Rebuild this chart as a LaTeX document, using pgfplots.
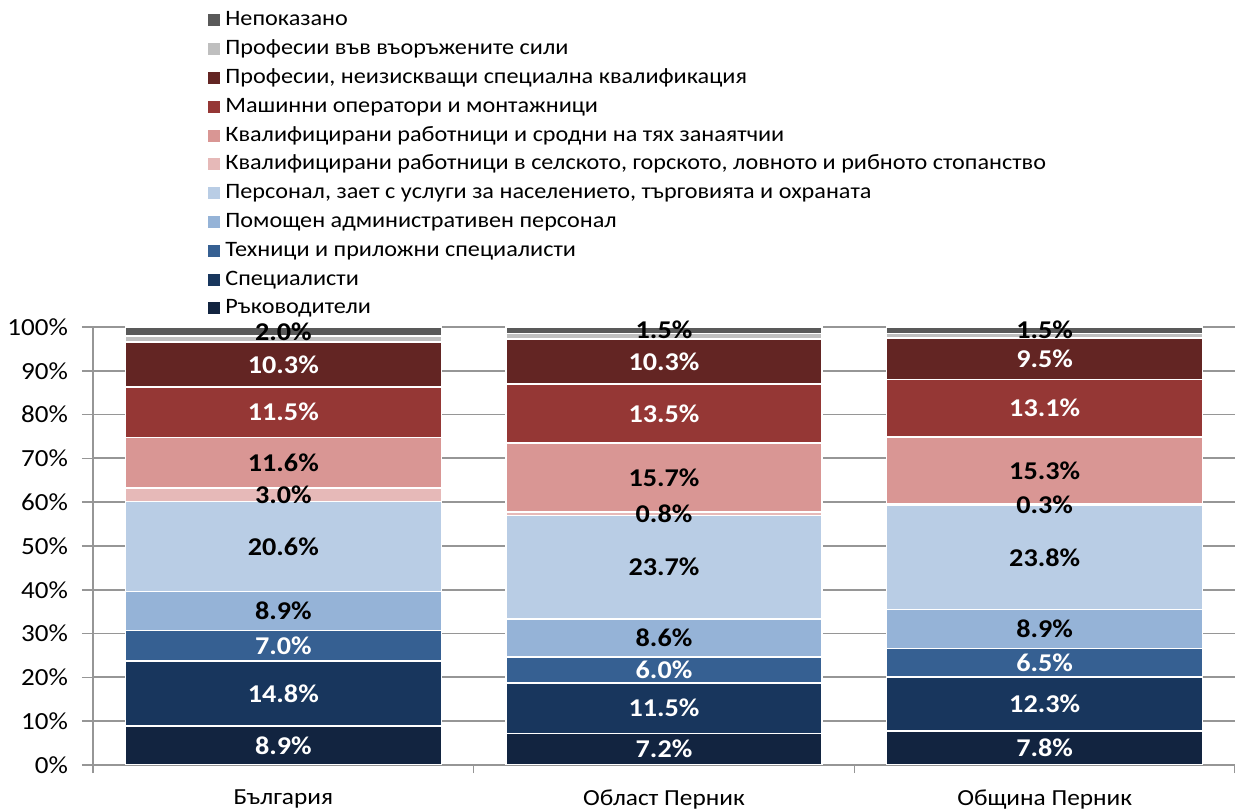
\documentclass[border=0pt]{standalone}
\usepackage{fontspec}
\setmainfont{Carlito}[FakeStretch=1.1]
\usepackage{pgfplots}
\pgfplotsset{compat=1.18}
\definecolor{cRuk}{RGB}{18,36,64}
\definecolor{cSpec}{RGB}{24,54,93}
\definecolor{cTech}{RGB}{54,96,146}
\definecolor{cPom}{RGB}{149,179,215}
\definecolor{cPers}{RGB}{185,205,229}
\definecolor{cSel}{RGB}{230,185,184}
\definecolor{cKval}{RGB}{217,150,148}
\definecolor{cMash}{RGB}{149,55,53}
\definecolor{cNeiz}{RGB}{99,37,35}
\definecolor{cArm}{RGB}{191,191,191}
\definecolor{cNep}{RGB}{89,89,89}
\definecolor{cGrid}{RGB}{150,150,150}
\pgfplotsset{
  commonaxis/.style={
    at={(46.5bp,23.5bp)}, anchor=south west,
    width=571bp, height=219bp, scale only axis,
    xmin=-0.5, xmax=2.5, ymin=0, ymax=100,
    /pgf/number format/assume math mode=true},
}
\begin{document}
\begin{tikzpicture}
\useasboundingbox (0,0) rectangle (617.5bp,406bp);
\begin{axis}[
  commonaxis,
  ybar stacked, bar width=158bp,
  axis x line=bottom, axis y line=left,
  axis line style={-, draw=cGrid, line width=0.8bp},
  xtick={0,1,2},
  xticklabels={България,Област Перник,Община Перник},
  minor xtick={-0.5,0.5,1.5,2.5},
  major x tick style={draw=none},
  minor x tick style={draw=cGrid, line width=0.8bp},
  minor tick length=4bp,
  ytick={0,10,...,100},
  major tick length=5.5bp,
  tick align=outside,
  y tick style={draw=cGrid, line width=0.8bp},
  yticklabel={\pgfmathprintnumber{\tick}\%},
  ymajorgrids,
  grid style={draw=cGrid, line width=0.9bp},
  tick label style={text=black},
  yticklabel style={font=\fontsize{12.3bp}{14bp}\selectfont, xshift=-3.5bp},
  xticklabel style={font=\fontsize{11.5bp}{13bp}\selectfont, yshift=-3.5bp},
  every axis plot/.append style={draw=white, line width=0.8bp},
  reverse legend,
  legend cell align=left,
  legend image code/.code={\draw[#1,draw=none] (0bp,-3bp) rectangle (6bp,3bp);},
  legend style={at={(axis description cs:0.1007,1.7338)}, anchor=north west,
    draw=none, fill=none, inner sep=0pt, row sep=0pt,
    font=\fontsize{11bp}{13bp}\selectfont,
    nodes={inner sep=0pt, text height=10bp, text depth=4.4bp},
    /tikz/every odd column/.append style={column sep=2.5bp}},
]
\addplot[fill=cRuk] coordinates {(0,8.9) (1,7.2) (2,7.8)};
\addlegendentry{Ръководители}
\addplot[fill=cSpec] coordinates {(0,14.8) (1,11.5) (2,12.3)};
\addlegendentry{Специалисти}
\addplot[fill=cTech] coordinates {(0,7.0) (1,6.0) (2,6.5)};
\addlegendentry{Техници и приложни специалисти}
\addplot[fill=cPom] coordinates {(0,8.9) (1,8.6) (2,8.9)};
\addlegendentry{Помощен административен персонал}
\addplot[fill=cPers] coordinates {(0,20.6) (1,23.7) (2,23.8)};
\addlegendentry{Персонал, зает с услуги за населението, търговията и охраната}
\addplot[fill=cSel] coordinates {(0,3.0) (1,0.8) (2,0.3)};
\addlegendentry{Квалифицирани работници в селското, горското, ловното и рибното стопанство}
\addplot[fill=cKval] coordinates {(0,11.6) (1,15.7) (2,15.3)};
\addlegendentry{Квалифицирани работници и сродни на тях занаятчии}
\addplot[fill=cMash] coordinates {(0,11.5) (1,13.5) (2,13.1)};
\addlegendentry{Машинни оператори и монтажници}
\addplot[fill=cNeiz] coordinates {(0,10.3) (1,10.3) (2,9.5)};
\addlegendentry{Професии, неизискващи специална квалификация}
\addplot[fill=cArm] coordinates {(0,1.4) (1,1.2) (2,1.0)};
\addlegendentry{Професии във въоръжените сили}
\addplot[fill=cNep] coordinates {(0,2.0) (1,1.5) (2,1.5)};
\addlegendentry{Непоказано}
\end{axis}
% data labels, centred in their segments
\begin{axis}[
  commonaxis, hide axis, clip=false,
  nodes near coords={\pgfmathprintnumber[fixed,fixed zerofill,precision=1]{\pgfplotspointmeta}\%},
  nodes near coords style={anchor=center, inner sep=0pt,
    font=\fontsize{12.8bp}{14bp}\selectfont\bfseries},
  point meta=explicit,
]
\addplot[draw=none, mark=none, nodes near coords style={text=white}]
  table[x=x, y=mid, meta=val] {
x mid val
0 4.45 8.9
1 3.6 7.2
2 3.9 7.8
0 16.3 14.8
1 12.95 11.5
2 13.95 12.3
0 27.2 7.0
1 21.7 6.0
2 23.35 6.5
0 80.55 11.5
1 80.25 13.5
2 81.45 13.1
0 91.45 10.3
1 92.15 10.3
2 92.75 9.5
};
\addplot[draw=none, mark=none, nodes near coords style={text=black}]
  table[x=x, y=mid, meta=val] {
x mid val
0 35.15 8.9
1 29.0 8.6
2 31.05 8.9
0 49.9 20.6
1 45.15 23.7
2 47.4 23.8
0 61.7 3.0
1 57.4 0.8
2 59.45 0.3
0 69.0 11.6
1 65.65 15.7
2 67.25 15.3
0 99.0 2.0
1 99.25 1.5
2 99.25 1.5
};
\end{axis}
\end{tikzpicture}
\end{document}
